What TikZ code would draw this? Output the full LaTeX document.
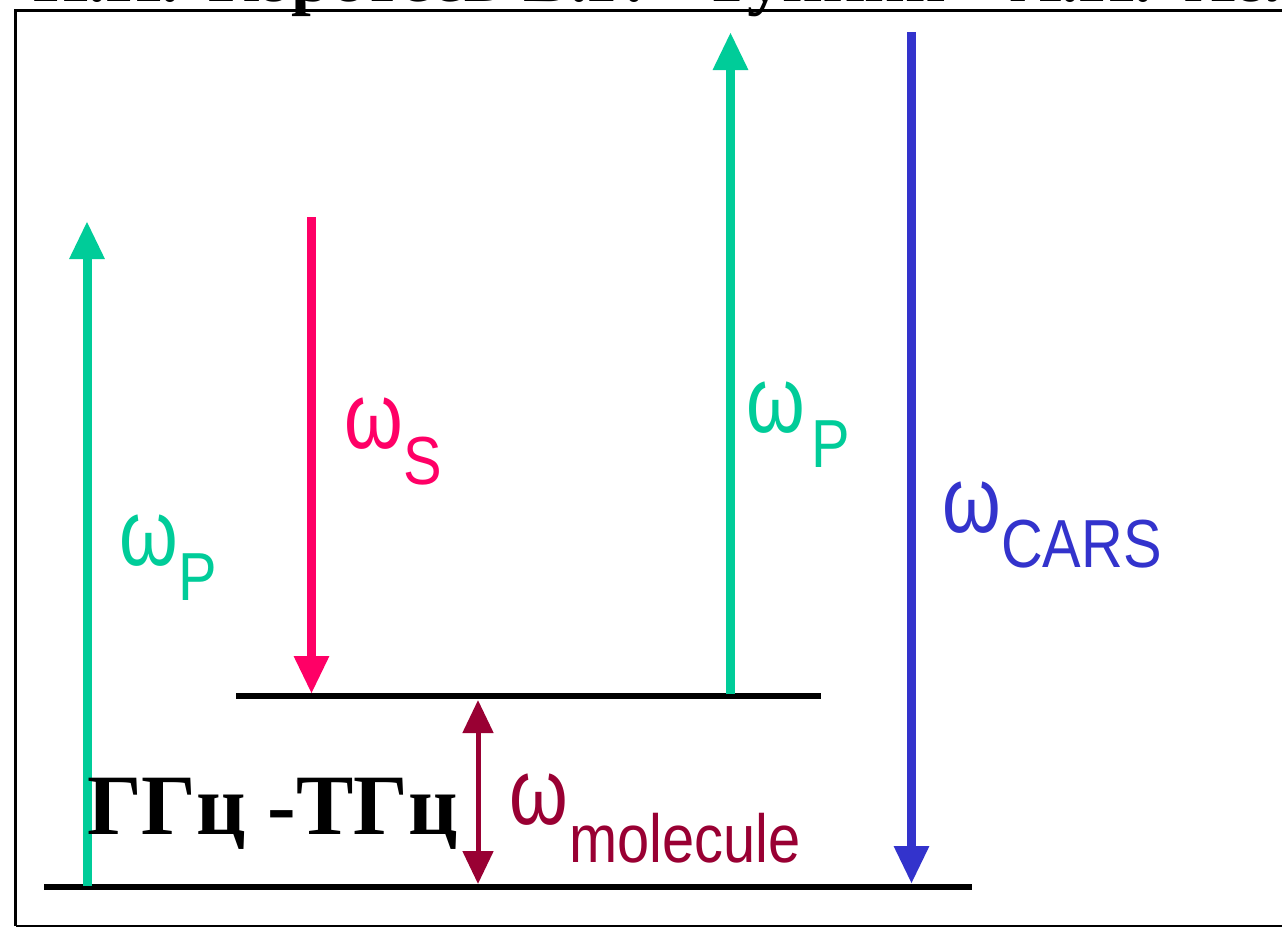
\documentclass[tikz,border=0pt]{standalone}
\usepackage{fontspec}
\usetikzlibrary{arrows.meta}
\newfontfamily\omfont[FakeStretch=0.8]{Liberation Sans}
\newfontfamily\labfont[FakeStretch=0.85]{Liberation Sans}
\newfontfamily\titfont{Liberation Serif}
\definecolor{pgreen}{RGB}{0,204,153}
\definecolor{ppink}{RGB}{255,0,102}
\definecolor{pblue}{RGB}{51,51,204}
\definecolor{pdred}{RGB}{153,0,51}
\newcommand\omsub[3]{\makebox[#1pt][l]{ω}\raisebox{-#2pt}{\labfont\fontsize{68}{68}\selectfont #3}}
\begin{document}
\begin{tikzpicture}[x=1pt,y=-1pt,
  level/.style={line width=6pt, black},
  frameline/.style={line width=3pt, black},
  beam/.style={line width=9pt, -{Triangle[length=38pt,width=33pt]}},
  molbeam/.style={line width=5pt, {Triangle[length=33pt,width=30pt]}-{Triangle[length=33pt,width=30pt]}},
  lab/.style={inner sep=0pt, anchor=base west, font=\omfont\fontsize{94}{94}\selectfont},
  titword/.style={inner sep=0pt, anchor=base west, font=\titfont\bfseries\fontsize{71}{71}\selectfont},
  bigtext/.style={inner sep=0pt, anchor=base west, font=\titfont\bfseries\fontsize{86}{86}\selectfont}]
\useasboundingbox (0,0) rectangle (1282,927);
\fill[white] (0,0) rectangle (1282,927);
% clipped heading
\begin{scope}
\clip (0,0) rectangle (1282,927);
\node[titword] (t1) at (33,1.5) {Н.И.};
\node[titword] (t2) at (208,1.5) {Коротеев};
\node[titword] (t3) at (523,1.5) {В.Г.};
\node[titword] (t4) at (703,1.5) {Тункин};
\node[titword] (t5) at (1010,1.5) {А.И.};
\node[titword] (t6) at (1184,1.5) {Холодных};
\end{scope}
% frame
\draw[frameline] (15.5,926) -- (15.5,10) -- (1290,10);
\draw[line width=1.5pt] (15.5,926) -- (1290,926);
% levels
\coordinate (gl) at (44,886.5);
\coordinate (gr) at (972,886.5);
\coordinate (ul) at (236,696);
\coordinate (ur) at (821,696);
\draw[level] (gl) -- (gr);
\draw[level] (ul) -- (ur);
% beams
\coordinate (p1a) at (87,886);
\coordinate (p1b) at (87,221);
\coordinate (sa) at (311.5,217);
\coordinate (sb) at (311.5,694);
\coordinate (p2a) at (730.5,694);
\coordinate (p2b) at (730.5,32);
\coordinate (ca) at (911.5,32);
\coordinate (cb) at (911.5,884);
\coordinate (ma) at (478,700);
\coordinate (mb) at (478,884);
\draw[beam, pgreen] (p1a) -- (p1b);
\draw[beam, ppink] (sa) -- (sb);
\draw[beam, pgreen] (p2a) -- (p2b);
\draw[beam, pblue] (ca) -- (cb);
\draw[molbeam, pdred] (ma) -- (mb);
% labels
\node[lab, text=pgreen] (lp1) at (119,565) {\omsub{59}{35}{P}};
\node[lab, text=ppink] (ls) at (344,448) {\omsub{59}{36}{S}};
\node[lab, text=pgreen] (lp2) at (746,432) {\omsub{65}{35}{P}};
\node[lab, text=pblue] (lc) at (942,532) {\omsub{59}{35}{CARS}};
\node[lab, text=pdred] (lm) at (509,824) {\omsub{60}{38}{molecule}};
\node[bigtext] (freq) at (87,834) {ГГц -ТГц};
\end{tikzpicture}
\end{document}
